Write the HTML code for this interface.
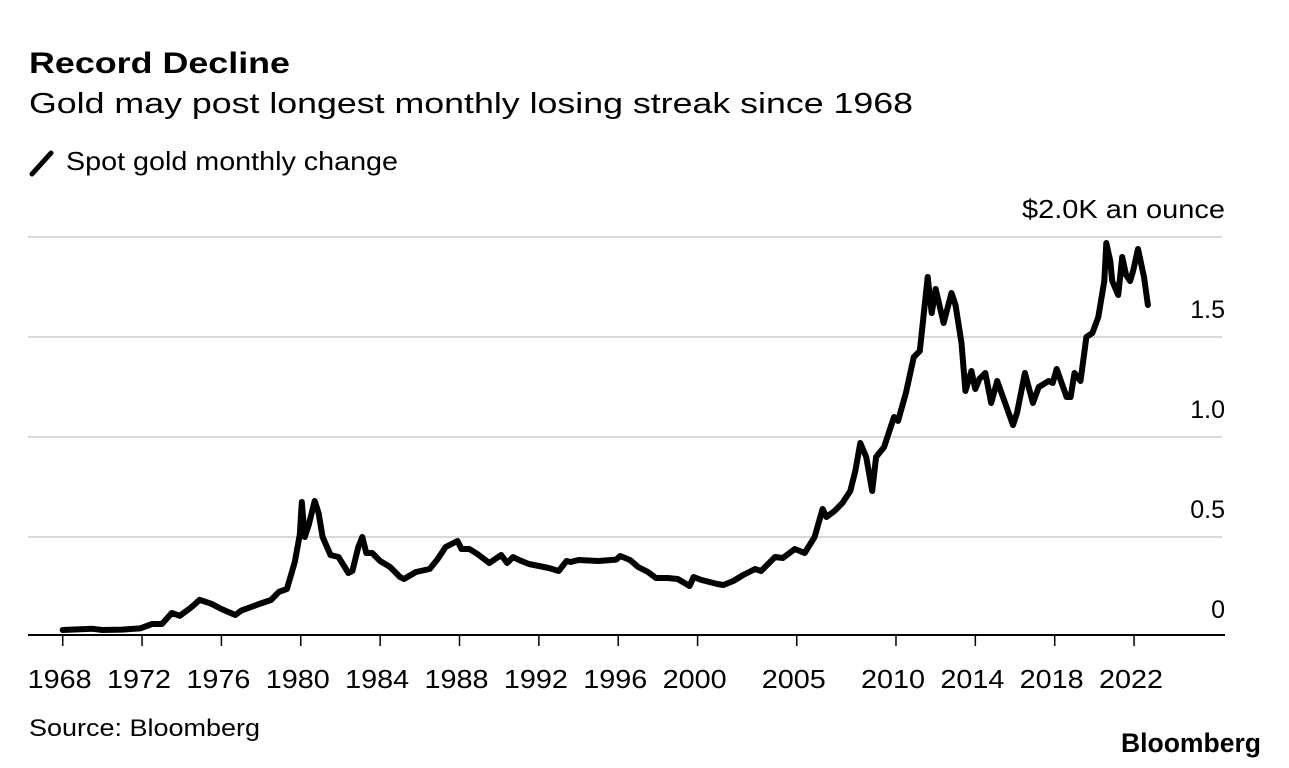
<!DOCTYPE html>
<html><head><meta charset="utf-8"><style>
html,body{margin:0;padding:0;background:#fff;}
svg{display:block;font-family:"Liberation Sans",Arial,sans-serif;}
</style></head><body>
<svg id="chart" width="1289" height="768" viewBox="0 0 1289 768" xmlns="http://www.w3.org/2000/svg">
<text x="29" y="73" font-size="30" font-weight="bold" fill="#000" textLength="261" lengthAdjust="spacingAndGlyphs">Record Decline</text>
<text x="29" y="113" font-size="29" fill="#000" textLength="884" lengthAdjust="spacingAndGlyphs">Gold may post longest monthly losing streak since 1968</text>
<g>
<line x1="32" y1="174" x2="51" y2="153" stroke="#000" stroke-width="5" stroke-linecap="round"/>
<text x="66" y="170" font-size="26" fill="#000" textLength="332" lengthAdjust="spacingAndGlyphs">Spot gold monthly change</text>
</g>
<text x="1022" y="218" font-size="26" fill="#000" textLength="203" lengthAdjust="spacingAndGlyphs">$2.0K an ounce</text>
<g id="grid"></g>
<g id="xaxis"></g>
<g id="series"></g>
<text x="29" y="736" font-size="24" fill="#000" textLength="231" lengthAdjust="spacingAndGlyphs">Source: Bloomberg</text>
<text x="1121" y="752" font-size="27" font-weight="bold" fill="#000" textLength="140" lengthAdjust="spacingAndGlyphs">Bloomberg</text>
</svg>
<script>
const yTicks = [0, 0.5, 1.0, 1.5, 2.0];
const yTickLabels = ["0", "0.5", "1.0", "1.5", ""];
const xTicks = [1968, 1972, 1976, 1980, 1984, 1988, 1992, 1996, 2000, 2005, 2010, 2014, 2018, 2022];
const xTickLabels = ["1968","1972","1976","1980","1984","1988","1992","1996","2000","2005","2010","2014","2018","2022"];
const years = [1968.0,1969.5,1970.0,1971.0,1971.9,1972.5,1973.0,1973.5,1973.9,1974.5,1974.9,1975.5,1976.0,1976.7,1977.0,1977.9,1978.5,1978.9,1979.3,1979.7,1979.95,1980.05,1980.2,1980.4,1980.7,1980.9,1981.1,1981.5,1981.9,1982.4,1982.6,1982.9,1983.1,1983.3,1983.6,1984.0,1984.5,1985.0,1985.2,1985.8,1986.5,1986.9,1987.3,1987.9,1988.1,1988.5,1988.9,1989.5,1990.1,1990.4,1990.7,1991.0,1991.5,1992.0,1992.5,1993.0,1993.4,1993.6,1994.0,1995.0,1995.9,1996.1,1996.6,1997.0,1997.5,1997.9,1998.5,1999.0,1999.6,1999.8,2000.2,2000.6,2001.0,2001.3,2001.8,2002.3,2002.9,2003.2,2003.9,2004.3,2004.9,2005.4,2005.9,2006.3,2006.5,2006.9,2007.3,2007.7,2007.95,2008.2,2008.5,2008.8,2009.0,2009.4,2009.9,2010.1,2010.5,2010.9,2011.2,2011.6,2011.8,2012.0,2012.4,2012.8,2013.0,2013.3,2013.5,2013.8,2014.0,2014.2,2014.5,2014.8,2015.1,2015.5,2015.9,2016.1,2016.5,2016.9,2017.2,2017.7,2017.9,2018.1,2018.6,2018.8,2019.0,2019.3,2019.6,2019.9,2020.2,2020.5,2020.6,2020.8,2020.9,2021.2,2021.4,2021.6,2021.8,2021.95,2022.2,2022.5,2022.7];
const prices = [35,41,35,37,43,65,65,120,106,150,186,166,140,110,132,165,185,226,240,375,512,675,500,560,680,620,500,410,400,320,330,450,500,420,420,380,350,300,290,325,340,390,450,480,440,440,415,370,410,370,400,385,365,355,345,330,380,375,385,380,387,405,385,350,325,295,295,290,255,300,285,275,265,260,280,310,340,330,400,395,440,420,500,640,600,630,670,730,830,970,900,730,900,950,1100,1080,1220,1400,1430,1800,1620,1740,1570,1720,1660,1470,1230,1330,1240,1290,1320,1170,1280,1170,1060,1120,1320,1170,1250,1280,1270,1340,1200,1200,1320,1280,1500,1520,1600,1780,1970,1880,1780,1710,1900,1810,1780,1830,1940,1800,1660];

const NS = "http://www.w3.org/2000/svg";
const x = yr => 62.7 + (yr - 1968) * 19.84;
const y = v => 637 - v * 200;

const grid = document.getElementById('grid');
yTicks.forEach((t, i) => {
  if (t > 0) {
    const l = document.createElementNS(NS, 'line');
    
    
    l.setAttribute('x1', 28); l.setAttribute('x2', 1222);
    l.setAttribute('y1', y(t)); l.setAttribute('y2', y(t));
    l.setAttribute('stroke', '#d9d9d9'); l.setAttribute('stroke-width', 2);
    grid.appendChild(l);
  }
  if (yTickLabels[i]) {
    const tx = document.createElementNS(NS, 'text');
    
    
    tx.setAttribute('x', 1225); tx.setAttribute('y', y(t) - 19);
    tx.setAttribute('text-anchor', 'end'); tx.setAttribute('font-size', 25);
    tx.textContent = yTickLabels[i];
    grid.appendChild(tx);
  }
});

const xa = document.getElementById('xaxis');
const axis = document.createElementNS(NS, 'line');


axis.setAttribute('x1', 28); axis.setAttribute('x2', 1225);
axis.setAttribute('y1', 635); axis.setAttribute('y2', 635);
axis.setAttribute('stroke', '#000'); axis.setAttribute('stroke-width', 2);
xa.appendChild(axis);
xTicks.forEach((t, i) => {
  const tk = document.createElementNS(NS, 'line');
  
  
  tk.setAttribute('x1', x(t)); tk.setAttribute('x2', x(t));
  tk.setAttribute('y1', 635); tk.setAttribute('y2', 646);
  tk.setAttribute('stroke', '#000'); tk.setAttribute('stroke-width', 1.5);
  xa.appendChild(tk);
  const tx = document.createElementNS(NS, 'text');
  
  
  tx.setAttribute('x', x(t) - 32 - 3); tx.setAttribute('y', 688);
  tx.setAttribute('font-size', 26);
  tx.setAttribute('textLength', 64);
  tx.setAttribute('lengthAdjust', 'spacingAndGlyphs');
  tx.textContent = xTickLabels[i];
  xa.appendChild(tx);
});

const p = document.createElementNS(NS, 'path');


p.setAttribute('d', years.map((yr, i) => (i ? 'L' : 'M') + x(yr).toFixed(1) + ',' + y(prices[i] / 1000).toFixed(1)).join(' '));
p.setAttribute('fill', 'none'); p.setAttribute('stroke', '#000');
p.setAttribute('stroke-width', 6); p.setAttribute('stroke-linejoin', 'round'); p.setAttribute('stroke-linecap', 'round');
document.getElementById('series').appendChild(p);
</script>
</body></html>
